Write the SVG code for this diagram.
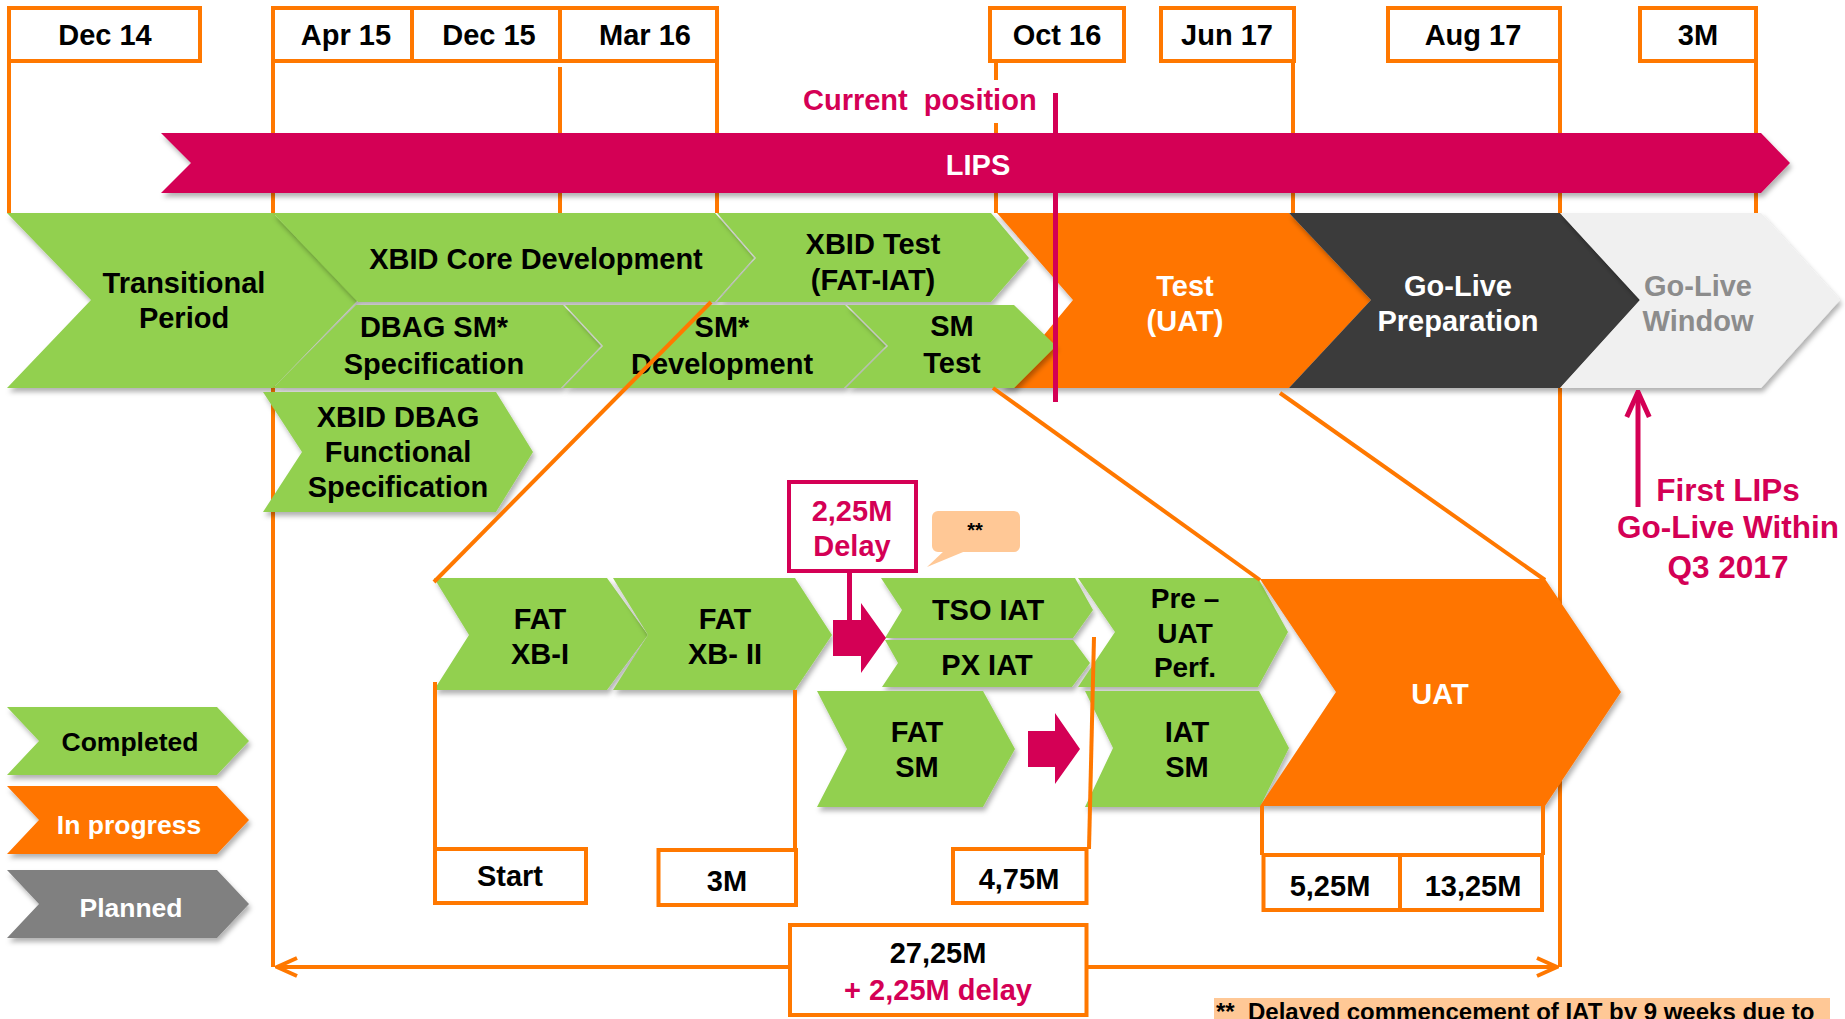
<svg xmlns="http://www.w3.org/2000/svg" width="1845" height="1019" viewBox="0 0 1845 1019">
<style>
.t{font-family:"Liberation Sans",Arial,sans-serif;font-weight:bold;font-size:29px;text-anchor:middle}
.k{fill:#000}.w{fill:#fff}.r{fill:#D40055}.g{fill:#8C8C8C}
.grn{fill:#92D050;filter:url(#sh)}
.org{fill:#FF7500;filter:url(#sh)}
.box{fill:#fff;stroke:#FF7800;stroke-width:4}
.ol{stroke:#FF7800;stroke-width:4;fill:none}
.pl{stroke:#D40055;stroke-width:5;fill:none}
</style>
<defs>
<filter id="sh" x="-10%" y="-10%" width="120%" height="130%">
<feDropShadow dx="2" dy="4" stdDeviation="2.5" flood-color="#000" flood-opacity="0.3"/>
</filter>
<marker id="mo" viewBox="0 0 12 12" refX="11" refY="6" markerWidth="24" markerHeight="24" markerUnits="userSpaceOnUse" orient="auto-start-reverse">
<path d="M1,1.5 L11,6 L1,10.5" fill="none" stroke="#FF7800" stroke-width="2"/>
</marker>
<marker id="mr" viewBox="0 0 12 12" refX="11" refY="6" markerWidth="30" markerHeight="30" markerUnits="userSpaceOnUse" orient="auto">
<path d="M1,1.5 L11,6 L1,10.5" fill="none" stroke="#D40055" stroke-width="2"/>
</marker>
</defs>
<rect width="1845" height="1019" fill="#fff"/>

<g id="gridlines" class="ol">
<line x1="9" y1="63" x2="9" y2="213"/>
<line x1="273" y1="63" x2="273" y2="967"/>
<line x1="560" y1="67" x2="560" y2="213"/>
<line x1="717" y1="63" x2="717" y2="213"/>
<line x1="996" y1="63" x2="996" y2="213"/>
<line x1="1293" y1="63" x2="1293" y2="213"/>
<line x1="1560" y1="63" x2="1560" y2="967"/>
<line x1="1756" y1="63" x2="1756" y2="213"/>
</g>

<g id="dates">
<rect class="box" x="9" y="8" width="191" height="53"/><text class="t k" x="105" y="45">Dec 14</text>
<rect class="box" x="273" y="8" width="139" height="53"/><text class="t k" x="346" y="45">Apr 15</text>
<rect class="box" x="412" y="8" width="148" height="53"/><text class="t k" x="489" y="45">Dec 15</text>
<rect class="box" x="560" y="8" width="157" height="53"/><text class="t k" x="645" y="45">Mar 16</text>
<rect class="box" x="990" y="8" width="134" height="53"/><text class="t k" x="1057" y="45">Oct 16</text>
<rect class="box" x="1161" y="8" width="133" height="53"/><text class="t k" x="1227" y="45">Jun 17</text>
<rect class="box" x="1388" y="8" width="172" height="53"/><text class="t k" x="1473" y="45">Aug 17</text>
<rect class="box" x="1640" y="8" width="116" height="53"/><text class="t k" x="1698" y="45">3M</text>
</g>

<g id="current-position">
<rect x="795" y="80" width="250" height="43" fill="#fff"/>
<text class="t r" x="803" y="110" style="text-anchor:start" xml:space="preserve">Current  position</text>
</g>

<g id="lips">
<polygon points="161,133 1761,133 1790,163 1761,193 161,193 191,163" fill="#D40055" filter="url(#sh)"/>
<text class="t w" x="978" y="175">LIPS</text>
</g>

<g id="transitional">
<polygon class="grn" points="7,213 273,213 358,300 273,388 7,388 91,300"/>
<text class="t k" x="184" y="293">Transitional</text><text class="t k" x="184" y="328">Period</text>
</g>
<g id="core-dev">
<polygon class="grn" points="273,213 715,213 754,258 715,302 358,302"/>
<text class="t k" x="536" y="269">XBID Core Development</text>
</g>
<g id="xbid-test">
<polygon class="grn" points="717,213 991,213 1029,258 991,302 717,302 756,258"/>
<text class="t k" x="873" y="254">XBID Test</text><text class="t k" x="873" y="290">(FAT-IAT)</text>
</g>
<g id="test-uat">
<polygon class="org" points="997,213 1289,213 1371,300 1289,388 1000,388 1073,300"/>
<text class="t w" x="1185" y="296">Test</text><text class="t w" x="1185" y="331">(UAT)</text>
</g>
<g id="golive-prep">
<polygon points="1289,213 1560,213 1640,300 1560,388 1289,388 1371,300" fill="#3B3B3B" filter="url(#sh)"/>
<text class="t w" x="1458" y="296">Go-Live</text><text class="t w" x="1458" y="331">Preparation</text>
</g>
<g id="golive-window">
<polygon points="1560,213 1761,213 1840,300 1761,388 1560,388 1640,300" fill="#F0F0F0" filter="url(#sh)"/>
<text class="t g" x="1698" y="296">Go-Live</text><text class="t g" x="1698" y="331">Window</text>
</g>
<g id="dbag-sm-spec">
<polygon class="grn" points="356,305 563,305 601,346 561,388 273,388"/>
<text class="t k" x="434" y="337">DBAG SM*</text><text class="t k" x="434" y="374">Specification</text>
</g>
<g id="sm-dev">
<polygon class="grn" points="565,305 845,305 886,346 844,388 563,388 603,346"/>
<text class="t k" x="722" y="337">SM*</text><text class="t k" x="722" y="374">Development</text>
</g>
<g id="sm-test">
<polygon class="grn" points="847,305 1014,305 1056,346 1014,388 846,388 888,346"/>
<text class="t k" x="952" y="336">SM</text><text class="t k" x="952" y="373">Test</text>
</g>
<g id="xbid-dbag-func">
<polygon class="grn" points="263,392 496,392 533,452 496,512 263,512 302,452"/>
<text class="t k" x="398" y="427">XBID DBAG</text><text class="t k" x="398" y="462">Functional</text><text class="t k" x="398" y="497">Specification</text>
</g>

<g id="fat-xb1">
<polygon class="grn" points="434,578 607,578 648,635 607,690 434,690 469,635"/>
<text class="t k" x="540" y="629">FAT</text><text class="t k" x="540" y="664">XB-I</text>
</g>
<g id="fat-xb2">
<polygon class="grn" points="613,578 795,578 832,635 795,690 613,690 648,635"/>
<text class="t k" x="725" y="629">FAT</text><text class="t k" x="725" y="664">XB- II</text>
</g>
<g id="tso-iat">
<polygon class="grn" points="881,578 1075,578 1093,610 1073,638 885,638 902,610"/>
<text class="t k" x="988" y="620">TSO IAT</text>
</g>
<g id="px-iat">
<polygon class="grn" points="885,640 1073,640 1090,663 1072,687 882,687 898,663"/>
<text class="t k" x="987" y="675">PX IAT</text>
</g>
<g id="pre-uat">
<polygon class="grn" points="1078,578 1258,578 1288,632 1258,687 1078,687 1115,632"/>
<text class="t k" x="1185" y="608" style="font-size:28px">Pre –</text><text class="t k" x="1185" y="643" style="font-size:28px">UAT</text><text class="t k" x="1185" y="677" style="font-size:28px">Perf.</text>
</g>
<g id="fat-sm">
<polygon class="grn" points="817,691 983,691 1015,749 983,807 817,807 847,749"/>
<text class="t k" x="917" y="742">FAT</text><text class="t k" x="917" y="777">SM</text>
</g>
<g id="iat-sm">
<polygon class="grn" points="1085,691 1259,691 1289,748 1260,807 1085,807 1113,748"/>
<text class="t k" x="1187" y="742">IAT</text><text class="t k" x="1187" y="777">SM</text>
</g>
<g id="uat">
<polygon class="org" points="1260,579 1545,579 1621,692 1545,806 1260,806 1336,692"/>
<text class="t w" x="1440" y="704">UAT</text>
</g>

<g id="delay">
<rect x="789" y="482" width="127" height="89" fill="#fff" stroke="#D40055" stroke-width="4"/>
<text class="t r" x="852" y="521">2,25M</text><text class="t r" x="852" y="556">Delay</text>
</g>
<g id="note-bubble">
<rect x="932" y="511" width="88" height="41" rx="6" fill="#FFC896"/>
<polygon points="945,550 927,567 968,550" fill="#FFC896"/>
<text class="t k" x="975" y="537" style="font-size:20px">**</text>
</g>

<g id="legend">
<polygon class="grn" points="7,707 217,707 249,741 217,775 7,775 39,741"/>
<text class="t k" x="130" y="751" style="font-size:26.5px">Completed</text>
<polygon class="org" points="7,786 217,786 249,820 217,854 7,854 39,820"/>
<text class="t w" x="129" y="834" style="font-size:26.5px">In progress</text>
<polygon points="7,870 217,870 249,904 217,938 7,938 39,904" fill="#808080" filter="url(#sh)"/>
<text class="t w" x="131" y="917" style="font-size:26.5px">Planned</text>
</g>

<g id="connectors">
<line class="ol" x1="711" y1="302" x2="434" y2="582"/>
<line class="ol" x1="993" y1="388" x2="1260" y2="580"/>
<line class="ol" x1="1280" y1="393" x2="1545" y2="580"/>
<line class="ol" x1="435" y1="682" x2="435" y2="849"/>
<line class="ol" x1="795" y1="690" x2="795" y2="850"/>
<line class="ol" x1="1094" y1="637" x2="1089" y2="849"/>
<line class="ol" x1="1262" y1="806" x2="1262" y2="855"/>
<line class="ol" x1="1543" y1="806" x2="1543" y2="855"/>
<line class="ol" x1="277" y1="967" x2="1557" y2="967" marker-start="url(#mo)" marker-end="url(#mo)"/>
<line class="pl" x1="1055.5" y1="93" x2="1055.5" y2="402"/>
<line class="pl" x1="849.5" y1="573" x2="849.5" y2="622"/>
<line class="pl" x1="1638" y1="507" x2="1638" y2="392" marker-end="url(#mr)"/>
<polygon points="833,620 861,620 861,603 886,638 861,673 861,656 833,656" fill="#D40055"/>
<polygon points="1028,731 1055,731 1055,713 1080,749 1055,784 1055,767 1028,767" fill="#D40055"/>
</g>

<g id="first-lips">
<text class="t r" x="1728" y="501" style="font-size:31.5px">First LIPs</text>
<text class="t r" x="1728" y="538" style="font-size:31.5px">Go-Live Within</text>
<text class="t r" x="1728" y="578" style="font-size:31.5px">Q3 2017</text>
</g>

<g id="milestones">
<rect class="box" x="435" y="849" width="151" height="54"/><text class="t k" x="510" y="886">Start</text>
<rect class="box" x="658.5" y="850" width="137.5" height="55"/><text class="t k" x="727" y="891">3M</text>
<rect class="box" x="953" y="849" width="133.5" height="54"/><text class="t k" x="1019" y="889">4,75M</text>
<rect class="box" x="1263.5" y="855" width="136.5" height="55"/><text class="t k" x="1330" y="896">5,25M</text>
<rect class="box" x="1400" y="855" width="142" height="55"/><text class="t k" x="1473" y="896">13,25M</text>
</g>
<g id="total">
<rect class="box" x="790" y="925" width="296.5" height="90"/>
<text class="t k" x="938" y="963">27,25M</text>
<text class="t r" x="938" y="1000">+ 2,25M delay</text>
</g>
<g id="footnote">
<rect x="1214" y="998" width="616" height="21" fill="#FFC896"/>
<text class="t k" x="1216" y="1020" style="font-size:24px;text-anchor:start" xml:space="preserve">**  Delayed commencement of IAT by 9 weeks due to</text>
</g>
</svg>
